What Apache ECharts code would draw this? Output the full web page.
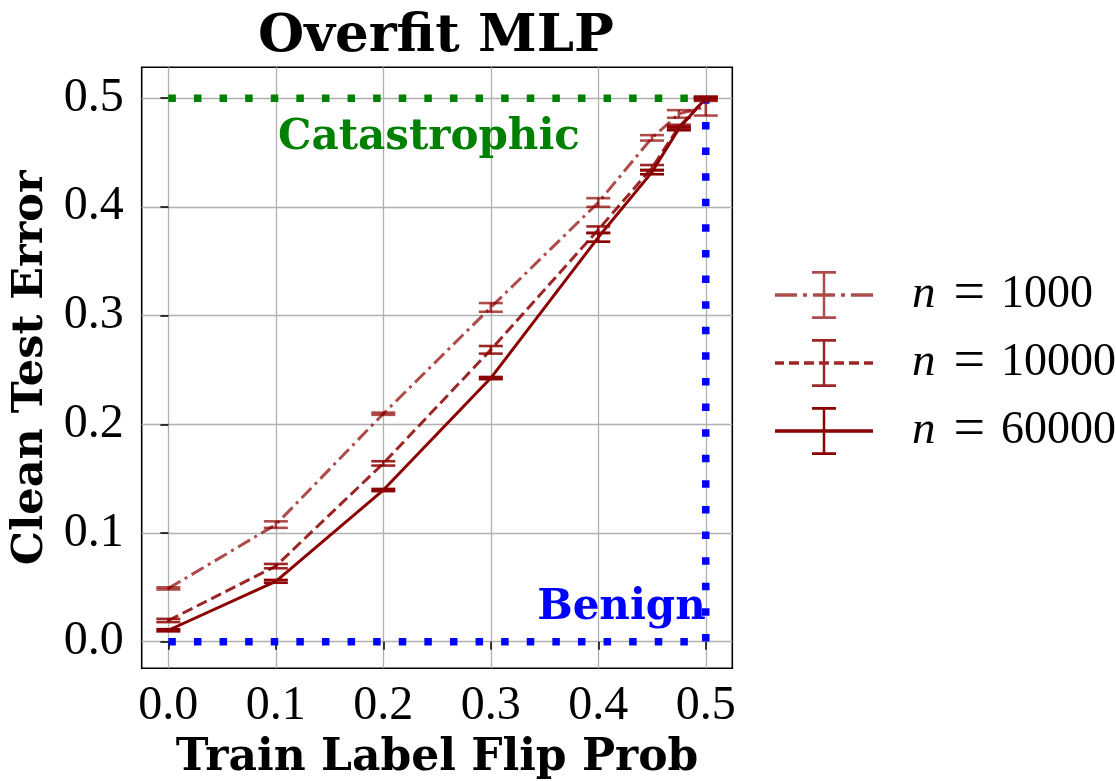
<!DOCTYPE html>
<html>
<head>
<meta charset="utf-8">
<script src="https://cdn.jsdelivr.net/npm/echarts@6/dist/echarts.min.js"></script>
<style>
html,body{margin:0;padding:0;background:#fff;}
#chart{width:1116px;height:781px;}
</style>
</head>
<body>
<div id="chart"></div>
<script>
// ---- data ----
const flipProbs = [0, 0.1, 0.2, 0.3, 0.4, 0.45, 0.475, 0.5];
const n1000 = [0.049, 0.1077, 0.2097, 0.3075, 0.404, 0.4635, 0.4855, 0.492];
const n1000Err = [0.001, 0.003, 0.001, 0.004, 0.004, 0.0025, 0.0035, 0.008];
const n10000 = [0.0195, 0.0695, 0.164, 0.2685, 0.379, 0.436, 0.4735, 0.4995];
const n10000Err = [0.0015, 0.002, 0.002, 0.0035, 0.003, 0.0025, 0.002, 0.002];
const n60000 = [0.0105, 0.0555, 0.1395, 0.2425, 0.372, 0.432, 0.472, 0.5];
const n60000Err = [0.001, 0.0013, 0.001, 0.001, 0.004, 0.002, 0.0015, 0.001];
const sampleSizes = ['1000', '10000', '60000'];
const xTicks = [0, 0.1, 0.2, 0.3, 0.4, 0.5];
const yTicks = [0, 0.1, 0.2, 0.3, 0.4, 0.5];
const catastrophicLine = [[0, 0.5], [0.5, 0.5]];
const benignLine = [[0, 0], [0.5, 0], [0.5, 0.5]];
const catastrophicLabelPos = [0.2425, 0.463];
const benignLabelPos = [0.5, 0.031];

// ---- styles ----
const colors = ['rgba(139,0,0,0.7)', 'rgba(139,0,0,0.85)', '#8b0000'];
const dashes = [[14, 5, 3, 5], [11, 5], null];
const serif = '"Liberation Serif", "DejaVu Serif", serif';
const serifBold = '"DejaVu Serif", serif';

function rect(x0, x1, y0, y1) {
  return 'M' + x0 + ',' + y0 + 'L' + x1 + ',' + y0 + 'L' + x1 + ',' + y1 + 'L' + x0 + ',' + y1 + 'Z';
}
function legendIcon(segs) {
  let p = '';
  segs.forEach(s => { p += rect(s[0], s[1], 22.25, 25.75); });
  p += rect(47.75, 50.25, 0, 48);
  p += rect(37, 61, 0, 2.8);
  p += rect(37, 61, 45.2, 48);
  return 'path://' + p;
}
const iconSegs = [
  [[0, 22], [28, 32], [38, 60], [66, 70], [76, 98]],
  [[0, 9], [14, 24], [29, 39], [44, 54], [59, 69], [74, 84], [89, 98]],
  [[0, 98]]
];

const means = [n1000, n10000, n60000];
const errs = [n1000Err, n10000Err, n60000Err];

const series = [];
// reference lines
series.push({
  type: 'line', data: catastrophicLine, symbol: 'none', silent: true, z: 1,
  lineStyle: { color: '#008000', width: 7.5, type: [7.5, 18.1], cap: 'butt' }
});
series.push({
  type: 'line', data: benignLine, symbol: 'none', silent: true, z: 1,
  lineStyle: { color: '#0000ff', width: 7.5, type: [7.5, 18.1], cap: 'butt', join: 'miter' }
});
// annotations
series.push({
  type: 'scatter', data: [catastrophicLabelPos], symbolSize: 0, silent: true, z: 2,
  itemStyle: { opacity: 1 },
  label: { show: true, position: 'inside', formatter: 'Catastrophic', color: '#008000', opacity: 1,
    fontFamily: serifBold, fontWeight: 'bold', fontSize: 42 }
});
series.push({
  type: 'scatter', data: [benignLabelPos], symbolSize: 0, silent: true, z: 2,
  itemStyle: { opacity: 1 },
  label: { show: true, position: 'inside', align: 'right', formatter: 'Benign', color: '#0000ff', opacity: 1,
    fontFamily: serifBold, fontWeight: 'bold', fontSize: 42 }
});

sampleSizes.forEach((n, i) => {
  series.push({
    name: n, type: 'line', symbol: 'none', z: 3,
    data: flipProbs.map((x, k) => [x, means[i][k]]),
    lineStyle: { color: colors[i], width: 3, type: dashes[i] || 'solid', cap: 'butt' },
    itemStyle: { color: colors[i] }
  });
  series.push({
    name: n, type: 'custom', z: 4,
    data: flipProbs.map((x, k) => [x, means[i][k] - errs[i][k], means[i][k] + errs[i][k]]),
    encode: { x: 0, y: [1, 2] },
    renderItem: (params, api) => {
      const x = api.value(0);
      const lo = api.coord([x, api.value(1)]);
      const hi = api.coord([x, api.value(2)]);
      const hw = 12;
      const st = { stroke: colors[i], lineWidth: 2.6, fill: null };
      return {
        type: 'group', children: [
          { type: 'line', shape: { x1: lo[0], y1: lo[1], x2: hi[0], y2: hi[1] }, style: st },
          { type: 'line', shape: { x1: lo[0] - hw, y1: lo[1], x2: lo[0] + hw, y2: lo[1] }, style: st },
          { type: 'line', shape: { x1: hi[0] - hw, y1: hi[1], x2: hi[0] + hw, y2: hi[1] }, style: st }
        ]
      };
    }
  });
});

const chart = echarts.init(document.getElementById('chart'), null, { renderer: 'canvas' });
chart.setOption({
  animation: false,
  backgroundColor: '#fff',
  title: {
    text: 'Overfit MLP', left: 258, top: 11, padding: 0,
    textStyle: { fontFamily: serifBold, fontWeight: 'bold', fontSize: 53, color: '#000' }
  },
  legend: {
    orient: 'vertical', left: 775, top: 267, itemWidth: 98, itemHeight: 48, itemGap: 12,
    padding: 0, selectedMode: false,
    data: sampleSizes.map((n, i) => ({
      name: n, icon: legendIcon(iconSegs[i]),
      itemStyle: { color: colors[i], borderWidth: 0 }
    })),
    formatter: name => '{i|n}{e|=}{d|' + name + '}',
    textStyle: {
      color: '#000', fontFamily: serif, fontSize: 46, lineHeight: 48, padding: [0, 0, 0, 34],
      rich: {
        i: { fontFamily: serif, fontStyle: 'italic', fontSize: 47, lineHeight: 48, color: '#000' },
        e: { fontFamily: serif, fontSize: 56, lineHeight: 48, padding: [0, 16, 0, 18], color: '#000' },
        d: { fontFamily: serif, fontSize: 46, lineHeight: 48, color: '#000' }
      }
    }
  },
  grid: {
    left: 141.7, right: 1116 - 732.3, top: 67.3, bottom: 781 - 668.3,
    show: true, borderColor: '#000', borderWidth: 1.6, backgroundColor: 'transparent',
    containLabel: false, outerBoundsMode: 'none'
  },
  xAxis: {
    type: 'value', min: -0.0248, max: 0.5247,
    name: 'Train Label Flip Prob', nameLocation: 'middle', nameGap: 68,
    nameTextStyle: { fontFamily: serifBold, fontWeight: 'bold', fontSize: 44, color: '#000' },
    axisLine: { show: false },
    axisTick: { show: true, customValues: xTicks, length: 8, lineStyle: { color: '#000', width: 1.5 } },
    axisLabel: { customValues: xTicks, formatter: v => v.toFixed(1), margin: 14,
      fontFamily: serif, fontSize: 48, color: '#000' },
    splitLine: { show: true, lineStyle: { color: '#b0b0b0', width: 1.3 } }
  },
  yAxis: {
    type: 'value', min: -0.0245, max: 0.5284,
    name: 'Clean Test Error', nameLocation: 'middle', nameGap: 88, nameRotate: 90,
    nameTextStyle: { fontFamily: serifBold, fontWeight: 'bold', fontSize: 43, color: '#000' },
    axisLine: { show: false },
    axisTick: { show: true, customValues: yTicks, length: 8, lineStyle: { color: '#000', width: 1.5 } },
    axisLabel: { customValues: yTicks, formatter: v => v.toFixed(1), margin: 18,
      fontFamily: serif, fontSize: 48, color: '#000' },
    splitLine: { show: true, lineStyle: { color: '#b0b0b0', width: 1.3 } }
  },
  series: series
});
</script>
</body>
</html>
